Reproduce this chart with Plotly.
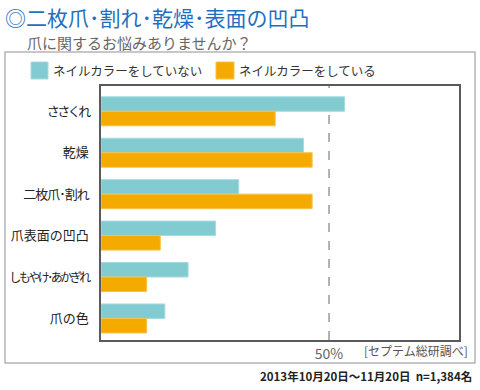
import plotly.graph_objects as go

categories = ["ささくれ", "乾燥", "二枚爪･割れ", "爪表面の凹凸", "しもやけ･あかぎれ", "爪の色"]
no_color = [53.4, 44.4, 30.2, 25.1, 19.1, 14.0]
with_color = [38.2, 46.3, 46.3, 13.0, 10.0, 10.0]
series_names = ["ネイルカラーをしていない", "ネイルカラーをしている"]
label_spacing = [-2.5, 0, -1, 0, -2.5, 0]
label_size = [13, 13, 13, 13, 12, 13]

FONT = "Noto Sans CJK JP, Noto Sans, sans-serif"
TEAL = "#81CBD1"
ORANGE = "#F5AA00"

W, H = 480, 390
L, R, T, B = 101, 21, 86, 50
PW, PH = W - L - R, H - T - B

def px(x):
    return (x - L) / PW

def py(y):
    return (H - B - y) / PH

fig = go.Figure()
fig.add_trace(go.Bar(y=categories, x=no_color, orientation="h", name=series_names[0],
                     marker=dict(color=TEAL, line=dict(color="#A6DCE0", width=1))))
fig.add_trace(go.Bar(y=categories, x=with_color, orientation="h", name=series_names[1],
                     marker=dict(color=ORANGE, line=dict(color="#F8C247", width=1))))

shapes = [
    dict(type="rect", xref="paper", yref="paper", x0=px(5), x1=px(475), y0=py(363), y1=py(52),
         line=dict(color="#B5B5B5", width=1.5), fillcolor="rgba(0,0,0,0)", layer="below"),
    dict(type="line", xref="x", yref="paper", x0=50, x1=50, y0=0, y1=1,
         line=dict(color="#999999", width=1.5, dash="dash"), layer="below"),
    dict(type="rect", xref="paper", yref="paper", x0=px(31), x1=px(48), y0=py(79), y1=py(62),
         fillcolor=TEAL, line=dict(color="#A6DCE0", width=1)),
    dict(type="rect", xref="paper", yref="paper", x0=px(216), x1=px(234), y0=py(79), y1=py(62),
         fillcolor=ORANGE, line=dict(color="#F8C247", width=1)),
]

def ann(text, x, y, size, color, xanchor="left", bold=False):
    return dict(text=f"<b>{text}</b>" if bold else text, xref="paper", yref="paper",
                x=px(x), y=py(y), xanchor=xanchor, yanchor="middle", showarrow=False,
                font=dict(family=FONT, size=size, color=color))

annotations = [
    ann("◎二枚爪･割れ･乾燥･表面の凹凸", 3, 17, 21, "#1F6FC0"),
    ann("爪に関するお悩みありませんか？", 25, 42, 15, "#666666"),
    ann(series_names[0], 51, 70.5, 12.5, "#333333"),
    ann(series_names[1], 237, 70.5, 12.5, "#333333"),
    ann("[セプテム総研調べ]", 362, 350, 12, "#555555"),
    ann("2013年10月20日～11月20日  n=1,384名", 474, 376, 11.5, "#222222", xanchor="right", bold=True),
]

tick_text = [f"<span style=\"letter-spacing:{s}px;font-size:{z}px\">{c}</span>"
             for c, s, z in zip(categories, label_spacing, label_size)]

fig.update_layout(
    width=W, height=H,
    margin=dict(l=L, r=R, t=T, b=B, pad=0, autoexpand=False),
    paper_bgcolor="white", plot_bgcolor="white",
    barmode="group", bargap=0.30, bargroupgap=0,
    showlegend=False,
    shapes=shapes, annotations=annotations,
    font=dict(family=FONT, color="#333333"),
)
fig.update_xaxes(range=[0, 78.5], tickvals=[50], ticktext=["50%"], showgrid=False, zeroline=False,
                 showline=True, mirror=True, linecolor="#5A5A5A", linewidth=1.5, automargin=False,
                 ticks="", tickfont=dict(size=14, color="#666666"), fixedrange=True)
fig.update_yaxes(categoryorder="array", categoryarray=categories, range=[5.52, -0.61],
                 tickmode="array", tickvals=categories, ticktext=tick_text,
                 showgrid=False, zeroline=False, showline=True, mirror=True, automargin=False,
                 linecolor="#5A5A5A", linewidth=1.5, ticks="", ticklabelstandoff=8,
                 tickfont=dict(size=13, color="#222222"), fixedrange=True)

fig.write_html("out.html", config=dict(displayModeBar=False),
               post_script="document.body.style.margin='0';document.body.style.padding='0';")
